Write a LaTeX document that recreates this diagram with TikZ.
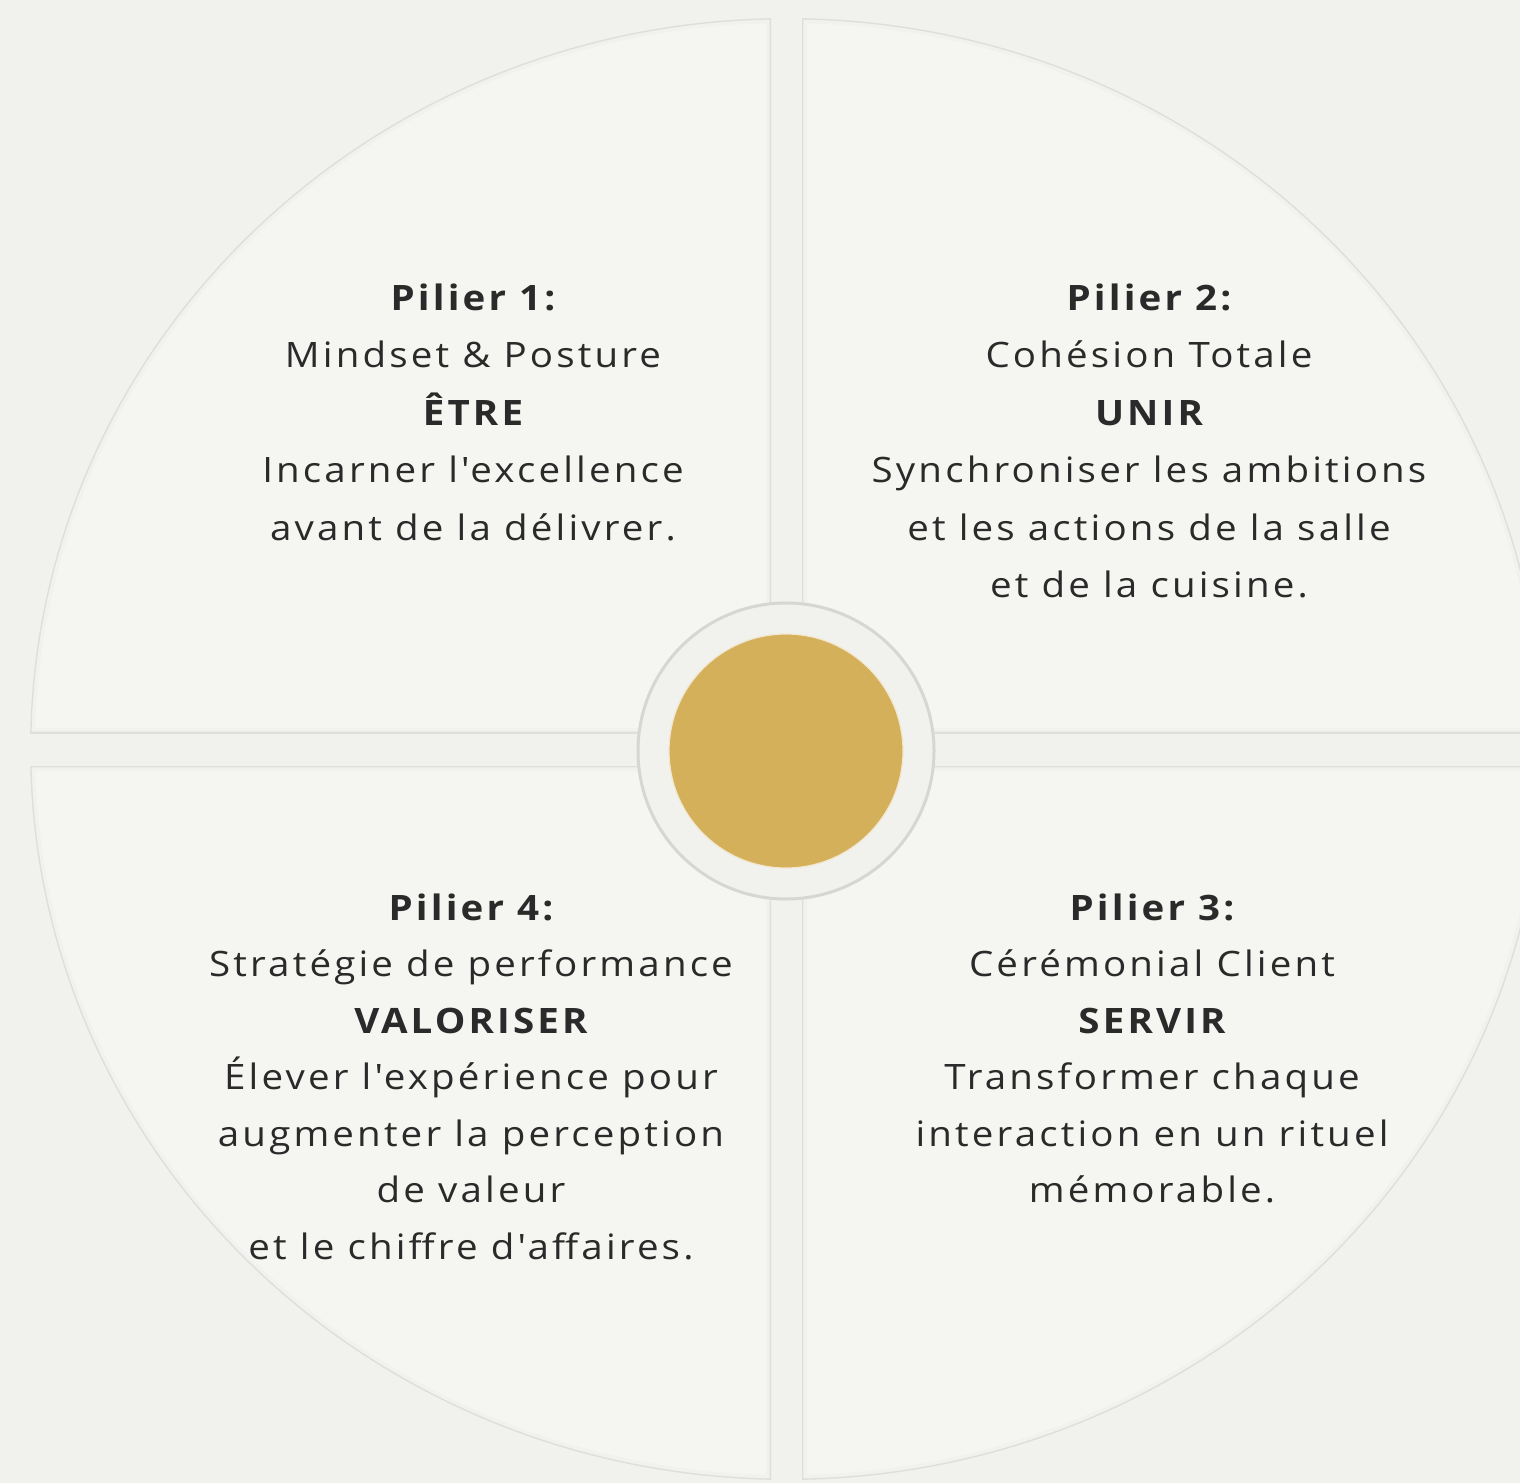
\documentclass[tikz,border=0pt]{standalone}
\usepackage{fontspec}
\newfontfamily\pillarfont[FakeStretch=1.1,LetterSpace=9]{Open Sans}

\definecolor{paper}{HTML}{F1F1ED}
\definecolor{panel}{HTML}{F5F5F2}
\definecolor{rim}{HTML}{D6D6D2}
\definecolor{gold}{HTML}{D4B05B}
\definecolor{ink}{HTML}{2A2A2A}

\begin{document}
\begin{tikzpicture}[x=0.5pt,y=-0.5pt,
    pillar text/.style={text=ink,anchor=base,inner sep=0pt,
                        font=\pillarfont\fontsize{17.5}{20}\selectfont}]
  \fill[paper] (0,0) rectangle (1520,1483);
  \useasboundingbox (0,0) rectangle (1520,1483);
  % four quarters of the disc
  \foreach \xa/\xb/\ya/\yb in {-50/771/-50/733, 802/1600/-50/733,
                               -50/771/766/1550, 802/1600/766/1550} {
    \begin{scope}
      \clip (\xa,\ya) rectangle (\xb,\yb);
      \clip (787,749) ellipse [x radius=757, y radius=731];
      \fill[panel] (\xa,\ya) rectangle (\xb,\yb);
      \draw[rim!35,line width=5pt] (787,749) ellipse [x radius=757, y radius=731]
        (\xa,\ya) rectangle (\xb,\yb);
      \draw[rim!80,line width=1.4pt] (787,749) ellipse [x radius=757, y radius=731]
        (\xa,\ya) rectangle (\xb,\yb);
    \end{scope}
  }
  % hub
  \node[circle,fill=paper,draw=rim,line width=1.5pt,minimum size=148pt,inner sep=0pt]
    (hub) at (786,751) {};
  \node[circle,fill=gold,draw=gold!30!white,line width=0.6pt,minimum size=117pt,inner sep=0pt]
    (core) at (hub.center) {};

  % texts
  \foreach \l [count=\i] in {\bfseries Pilier 1:, Mindset \& Posture, \bfseries ÊTRE,
                             Incarner l'excellence, avant de la délivrer.}
    \node[pillar text] (one-\i) at (473,{310+57.5*(\i-1)}) {\l};
  \foreach \l [count=\i] in {\bfseries Pilier 2:, Cohésion Totale, \bfseries UNIR,
                             Synchroniser les ambitions, et les actions de la salle,
                             et de la cuisine.}
    \node[pillar text] (two-\i) at (1149,{310+57.5*(\i-1)}) {\l};
  \foreach \l [count=\i] in {\bfseries Pilier 3:, Cérémonial Client, \bfseries SERVIR,
                             Transformer chaque, interaction en un rituel, mémorable.}
    \node[pillar text] (three-\i) at (1152,{920+56.5*(\i-1)}) {\l};
  \foreach \l [count=\i] in {\bfseries Pilier 4:, Stratégie de performance, \bfseries VALORISER,
                             Élever l'expérience pour, augmenter la perception,
                             de valeur, et le chiffre d'affaires.}
    \node[pillar text] (four-\i) at (471,{920+56.5*(\i-1)}) {\l};
\end{tikzpicture}
\end{document}
